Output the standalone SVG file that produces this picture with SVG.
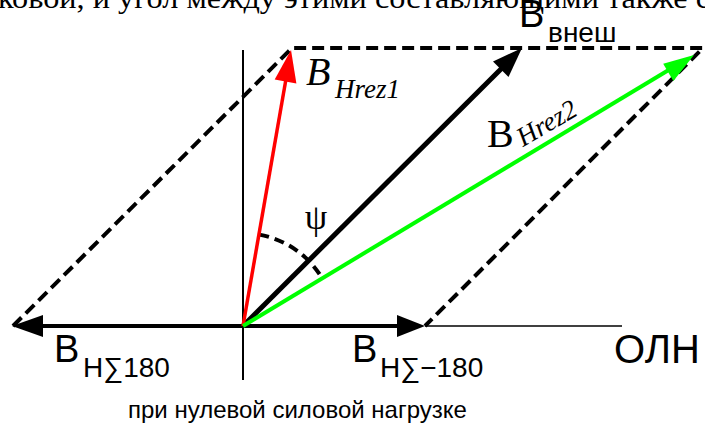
<svg xmlns="http://www.w3.org/2000/svg" width="705" height="426" viewBox="0 0 705 426">
<style>
.sans{font-family:"Liberation Sans",Arial,sans-serif;fill:#000}
.serif{font-family:"Liberation Serif","Times New Roman",serif;fill:#000}
.it{font-style:italic}
.dash{fill:none;stroke:#000;stroke-width:4;stroke-dasharray:12 6}
</style>
<rect width="705" height="426" fill="#fff"/>
<text class="serif" x="-2" y="8" font-size="30" textLength="712" lengthAdjust="spacingAndGlyphs">ковой, и угол между этими составляющими также с</text>
<g id="axes">
<line x1="243" y1="50" x2="243" y2="380" stroke="#000" stroke-width="2"/>
<line x1="425" y1="326" x2="622" y2="326" stroke="#000" stroke-width="1.5"/>
</g>
<g id="connectors">
<g id="parallelogram">
<polyline class="dash" points="13,326 292,48 703,48 425,326"/>
</g>
<g id="angle-arc">
<path d="M259.2,234.6 A92,92 0 0 1 322.2,278.4" fill="none" stroke="#000" stroke-width="4" stroke-dasharray="10 6"/>
</g>
<g id="B-H-sum-180">
<line x1="243" y1="326" x2="40" y2="326" stroke="#000" stroke-width="4"/>
<polygon points="12,326 43,315 43,337" fill="#000"/>
</g>
<g id="B-H-sum-minus180">
<line x1="243" y1="326" x2="400" y2="326" stroke="#000" stroke-width="4"/>
<polygon points="425,326 397,315 397,337" fill="#000"/>
</g>
<g id="B-vnesh">
<line x1="243" y1="326" x2="503" y2="67" stroke="#000" stroke-width="5"/>
<polygon points="522,48 508.5,77 493,61.4" fill="#000"/>
</g>
<g id="B-Hrez1">
<line x1="243" y1="326" x2="286" y2="79" stroke="#f00" stroke-width="3.5"/>
<polygon points="291,50 296.4,83.4 274.7,79.6" fill="#f00"/>
</g>
<g id="B-Hrez2">
<line x1="243" y1="326" x2="672" y2="68" stroke="#0f0" stroke-width="4"/>
<polygon points="694,55 673.4,81 663.2,63.8" fill="#0f0"/>
</g>
</g>
<g id="labels">
<g id="label-vnesh"><text class="sans" x="519" y="27" font-size="38">B</text><text class="sans" x="548" y="42" font-size="28">внеш</text></g>
<g id="label-Hrez1"><text class="serif it" x="306" y="85" font-size="40">B</text><text class="serif it" x="335" y="98" font-size="27">Hrez1</text></g>
<g id="label-Hrez2"><text class="serif" x="487" y="147" font-size="40">B</text><text class="serif it" transform="translate(523,147) rotate(-30)" x="0" y="0" font-size="27">Hrez2</text></g>
<g id="label-psi"><text class="serif" x="316" y="229" font-size="36" text-anchor="middle">ψ</text></g>
<g id="label-H180"><text class="sans" x="54" y="362" font-size="38">B</text><text class="sans" x="83" y="377" font-size="28">H∑180</text></g>
<g id="label-Hm180"><text class="sans" x="352" y="362" font-size="38">B</text><text class="sans" x="380" y="377" font-size="28">H∑−180</text></g>
<g id="label-OLN"><text class="sans" x="614" y="363" font-size="40">ОЛН</text></g>
<g id="caption"><text class="sans" x="128" y="418" font-size="24">при нулевой силовой нагрузке</text></g>
</g>
</svg>
